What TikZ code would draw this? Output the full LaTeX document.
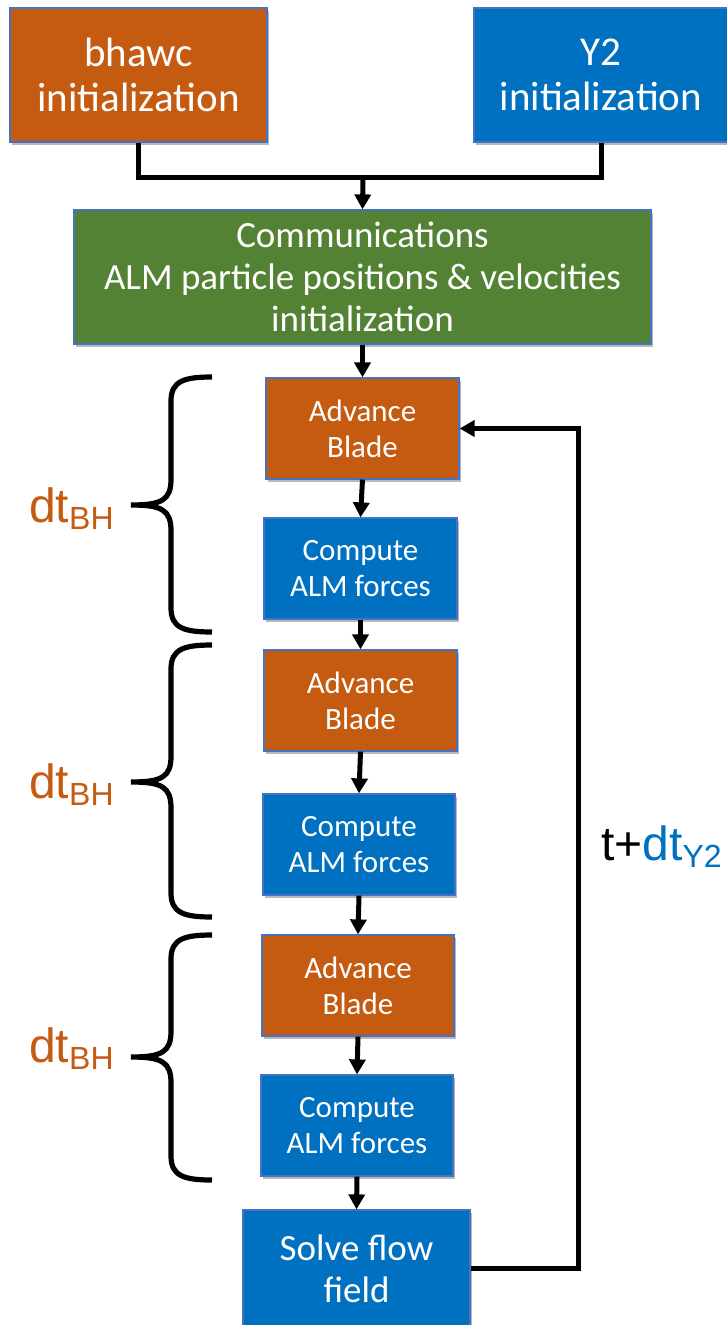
\documentclass[tikz,border=0pt]{standalone}
\usepackage{fontspec}
\setmainfont{Carlito}
\newfontfamily\arialf{Liberation Sans}
\usetikzlibrary{arrows.meta,shadows}
\definecolor{cor}{HTML}{C55A11}
\definecolor{cbl}{HTML}{0070C0}
\definecolor{cgr}{HTML}{548235}
\definecolor{cbd}{HTML}{4472C4}
\newcommand\dtlab[1]{{\arialf\fontsize{48}{48}\selectfont dt\raisebox{-7pt}{\fontsize{32}{32}\selectfont #1}}}
\newcommand\mybrace[3]{%
  \draw[brc] (212,#1) .. controls (184,#1) and (171,{#1+4}) .. (171,{#1+24})
    -- (171,{#2-26}) .. controls (171,{#2-5}) and (162,{#2}) .. (131,{#2})
    .. controls (162,{#2}) and (171,{#2+5}) .. (171,{#2+26})
    -- (171,{#3-24}) .. controls (171,{#3-4}) and (184,#3) .. (212,#3);}
\begin{document}
\begin{tikzpicture}[x=1pt,y=-1pt,
 box/.style={draw=cbd, line width=1.2pt, text=white, align=center, inner sep=0pt,
   drop shadow={shadow xshift=2pt,shadow yshift=-3pt,opacity=0.28,fill=black}},
 obox/.style={box, fill=cor},
 bbox/.style={box, fill=cbl},
 gbox/.style={box, fill=cgr},
 conn/.style={line width=5pt, black},
 arr/.style={conn, -{Triangle[length=15pt,width=16pt]}},
 brc/.style={line width=5.2pt},
 big/.style={font=\fontsize{41}{45}\selectfont},
 mid/.style={font=\fontsize{37}{42}\selectfont},
 sml/.style={font=\fontsize{31}{36}\selectfont},
]
\useasboundingbox (0,0) rectangle (726,1325);

\node[obox, big, minimum width=257pt, minimum height=134pt] (bhawc) at (138.5,75) {bhawc\\initialization};
\node[bbox, big, minimum width=254pt, minimum height=134pt] (y2) at (601,75) {Y2\\initialization};
\node[gbox, mid, minimum width=577pt, minimum height=134pt] (comm) at (362.5,277) {Communications\\ALM particle positions \& velocities\\initialization};

\node[obox, sml, minimum width=193pt, minimum height=101pt] (ab1) at (362.5,428.5) {Advance\\Blade};
\node[bbox, sml, minimum width=193pt, minimum height=101pt] (c1) at (360.5,568.5) {Compute\\ALM forces};
\node[obox, sml, minimum width=193pt, minimum height=101pt] (ab2) at (360.5,700.5) {Advance\\Blade};
\node[bbox, sml, minimum width=192pt, minimum height=101pt] (c2) at (359,844.5) {Compute\\ALM forces};
\node[obox, sml, minimum width=192pt, minimum height=101pt] (ab3) at (358,985.5) {Advance\\Blade};
\node[bbox, sml, minimum width=192pt, minimum height=101pt] (c3) at (357,1125.5) {Compute\\ALM forces};
\node[bbox, mid, minimum width=227pt, minimum height=117pt] (solve) at (356.5,1268.5) {Solve flow\\field};

\coordinate (j) at (363,177);
\draw[conn] (bhawc.south) |- (j) -| (y2.south);
\draw[arr] (j) -- (comm.north);
\draw[arr] (comm.south) -- (ab1.north);
\draw[arr] (ab1.south) -- (c1.north);
\draw[arr] (c1.south) -- (ab2.north);
\draw[arr] (ab2.south) -- (c2.north);
\draw[arr] (c2.south) -- (ab3.north);
\draw[arr] (ab3.south) -- (c3.north);
\draw[arr] (c3.south) -- (solve.north);
\draw[arr] (solve.east) -- ++(108,0) |- (ab1.east);

\mybrace{377}{505}{632}
\mybrace{645}{782}{917}
\mybrace{935}{1057}{1180}

\node[anchor=base west, inner sep=0pt, text=cor] (lab1) at (29,522) {\dtlab{BH}};
\node[anchor=base west, inner sep=0pt, text=cor] (lab2) at (29,798) {\dtlab{BH}};
\node[anchor=base west, inner sep=0pt, text=cor] (lab3) at (29,1062) {\dtlab{BH}};
\node[anchor=base west, inner sep=0pt] (lab4) at (601,860) {{\arialf\fontsize{48}{48}\selectfont t+}\textcolor{cbl}{\dtlab{Y2}}};
\end{tikzpicture}
\end{document}
